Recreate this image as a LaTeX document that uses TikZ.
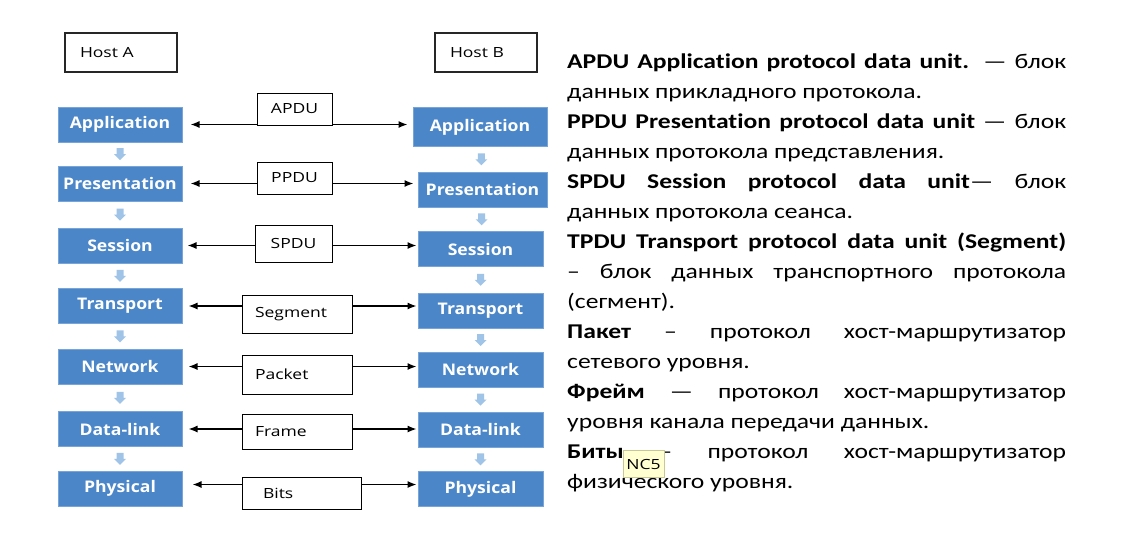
\documentclass[tikz,border=0pt]{standalone}
\usepackage{fontspec}
\setmainfont{Carlito}[FakeStretch=1.22, Ligatures=NoCommon]
\newfontfamily\osansb{Open Sans}[FakeStretch=1.1]
\newfontfamily\osansw{Open Sans}[FakeStretch=1.25]
\usetikzlibrary{arrows.meta,calc}
\definecolor{layerblue}{RGB}{74,134,200}
\definecolor{layeredge}{RGB}{120,165,215}
\definecolor{downblue}{RGB}{160,196,232}
\definecolor{tipfill}{RGB}{255,255,210}
\definecolor{tipedge}{RGB}{200,200,150}
\begin{document}
\begin{tikzpicture}[x=1pt,y=-1pt,
 layer/.style={draw=layeredge, fill=layerblue, line width=1pt, text=white,
   font=\osansb\bfseries\fontsize{16}{18}\selectfont, inner sep=0pt, minimum height=35pt},
 pdu/.style={draw=black, fill=white, line width=1pt,
   font=\osansw\fontsize{14}{16}\selectfont, inner sep=0pt},
 pduleft/.style={pdu, align=left, inner xsep=13pt},
 host/.style={draw=black!85, line width=1.2pt, font=\osansw\fontsize{14}{16}\selectfont,
   align=left, inner xsep=15pt, inner ysep=0pt, minimum height=39pt},
 biarrow/.style={{Latex[length=9pt,width=7pt]}-{Latex[length=9pt,width=7pt]}, line width=1.3pt},
 dnarrow/.pic={\fill[downblue] (-3.5,-6) -- (3.5,-6) -- (3.5,0) -- (6,0) -- (0,6) -- (-6,0) -- (-3.5,0) -- cycle;}
]
\useasboundingbox[fill=white] (0,0) rectangle (1123,552);

% hosts
\node[host, text width=82pt] (hosta) at (121,52.5) {Host A};
\node[host, text width=72pt] (hostb) at (486,52.5) {Host B};

% left stack
\node[layer, minimum width=124pt] (la)  at (120,124.5) {Application};
\node[layer, minimum width=124pt] (lp)  at (120,183.5) {Presentation};
\node[layer, minimum width=124pt] (ls)  at (120,245.5) {Session};
\node[layer, minimum width=124pt] (lt)  at (120,306)   {Transport};
\node[layer, minimum width=124pt] (ln)  at (120,366.5) {Network};
\node[layer, minimum width=124pt] (ld)  at (120,429)   {Data-link};
\node[layer, minimum width=124pt] (lph) at (120,488.5) {Physical};

% right stack
\node[layer, minimum width=134pt, minimum height=39pt] (ra) at (480,127) {Application};
\node[layer, minimum width=129pt] (rp)  at (482.5,189.5) {Presentation};
\node[layer, minimum width=125pt] (rs)  at (480.5,249)   {Session};
\node[layer, minimum width=125pt] (rt)  at (480.5,310.5) {Transport};
\node[layer, minimum width=125pt] (rn)  at (480.5,369.5) {Network};
\node[layer, minimum width=125pt] (rd)  at (480.5,429.5) {Data-link};
\node[layer, minimum width=125pt] (rph) at (480.5,489)   {Physical};

% down arrows
\foreach \a/\b in {la/lp,lp/ls,ls/lt,lt/ln,ln/ld,ld/lph,ra/rp,rp/rs,rs/rt,rt/rn,rn/rd,rd/rph}
  \pic at ($(\a.south)!0.5!(\b.north)$) {dnarrow};

% peer arrows
\coordinate (phy) at ([xshift=10pt,yshift=4pt]lph.east);
\draw[biarrow] ([xshift=8pt]la.east)  -- ([xshift=-5pt]ra.west |- la.east);
\draw[biarrow] ([xshift=8pt]lp.east)  -- ([xshift=-4pt]rp.west |- lp.east);
\draw[biarrow] ([xshift=5pt]ls.east)  -- ([xshift=-1pt]rs.west |- ls.east);
\draw[biarrow] ([xshift=6pt]lt.east)  -- ([xshift=-1pt]rt.west |- lt.east);
\draw[biarrow] ([xshift=6pt]ln.east)  -- ([xshift=-1pt]rn.west |- ln.east);
\draw[biarrow] ([xshift=6pt]ld.east)  -- ([xshift=-1pt]rd.west |- ld.east);
\draw[biarrow] (phy) -- ([xshift=-1pt]rph.west |- phy);

% PDU labels
\node[pdu, minimum width=75pt, minimum height=32pt] (apdu) at (294.5,109) {APDU};
\node[pdu, minimum width=75pt, minimum height=32pt] (ppdu) at (294.5,178) {PPDU};
\node[pdu, minimum width=77pt, minimum height=37pt] (spdu) at (293.5,243.5) {SPDU};
\node[pduleft, text width=84pt, minimum height=38pt] (seg) at (297,314) {Segment};
\node[pduleft, text width=84pt, minimum height=39pt] (pkt) at (297,374.5) {Packet};
\node[pduleft, text width=84pt, minimum height=35pt] (frm) at (297,431.5) {Frame};
\node[pduleft, text width=93pt, minimum height=32pt] (bits) at (301.5,493) {\hspace*{8pt}Bits};

% description text
\node[anchor=north west, inner sep=0pt, align=left, font=\fontsize{21}{30}\selectfont] (desc) at (567,54) {%
\makebox[499pt][s]{\textbf{APDU Application protocol data unit.} — блок}\\
данных прикладного протокола.\\
\makebox[499pt][s]{\textbf{PPDU Presentation protocol data unit} — блок}\\
данных протокола представления.\\
\makebox[499pt][s]{\textbf{SPDU Session protocol data unit}— блок}\\
данных протокола сеанса.\\
\makebox[499pt][s]{\textbf{TPDU Transport protocol data unit (Segment)}}\\
\makebox[499pt][s]{– блок данных транспортного протокола}\\
(сегмент).\\
\makebox[499pt][s]{\textbf{Пакет} – протокол хост-маршрутизатор}\\
сетевого уровня.\\
\makebox[499pt][s]{\textbf{Фрейм} — протокол хост-маршрутизатор}\\
уровня канала передачи данных.\\
\makebox[499pt][s]{\textbf{Биты} – протокол хост-маршрутизатор}\\
физического уровня.};

% tooltip
\node[draw=tipedge, fill=tipfill, line width=0.8pt, font=\osansw\fontsize{14}{16}\selectfont,
  minimum width=41pt, minimum height=27pt, inner sep=0pt] (tip) at (643.5,464) {NC5};
\end{tikzpicture}
\end{document}
